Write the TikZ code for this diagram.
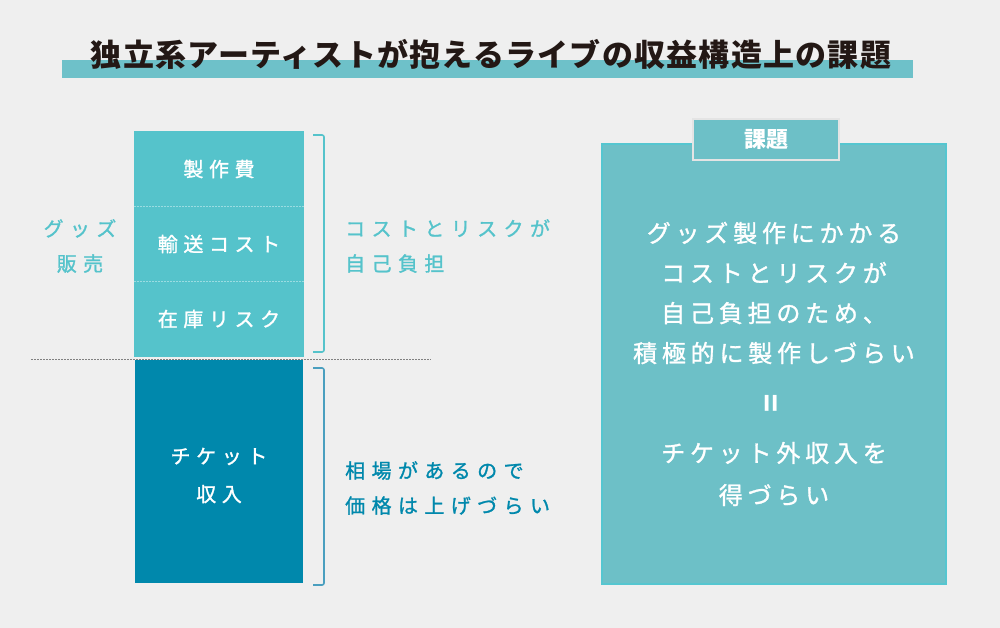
\documentclass[tikz,border=0pt]{standalone}
\usepackage{fontspec}
\setmainfont{Noto Sans CJK JP}
\newfontfamily\jpS[LetterSpace=28,FakeBold=1.2]{Noto Sans CJK JP}
\newfontfamily\jpL[LetterSpace=32,FakeBold=1.2]{Noto Sans CJK JP}
\newfontfamily\jpM[LetterSpace=20,FakeBold=1.2]{Noto Sans CJK JP}
\newfontfamily\jpT[LetterSpace=4]{Noto Sans CJK JP}
\definecolor{bg}{HTML}{EFEFEF}
\definecolor{lightc}{HTML}{55C3CB}
\definecolor{darkc}{HTML}{0088AC}
\definecolor{panel}{HTML}{6DC0C7}
\definecolor{panelb}{HTML}{55C6D0}
\definecolor{titlebar}{HTML}{6EC1C9}
\definecolor{ink}{HTML}{231815}
\definecolor{brdark}{HTML}{4A9FBF}
\definecolor{tabb}{HTML}{E4E4E4}
\definecolor{sepc}{HTML}{9ADCE1}
\tikzset{
  stackbox/.style={inner sep=0, minimum width=170, minimum height=75, text=white, font=\jpS\fontsize{20}{24}\selectfont},
  sidelabel/.style={inner sep=0, align=left, anchor=west, font=\jpL\fontsize{20}{35}\selectfont},
  bodytext/.style={inner sep=0, align=center, text=white, font=\jpM\fontsize{24}{40}\selectfont},
  bracket/.style={line width=1.6, rounded corners=2},
}
\begin{document}
\begin{tikzpicture}[x=1pt,y=-1pt]
\fill[bg] (0,0) rectangle (1000,628);
\useasboundingbox (0,0) rectangle (1000,628);
% title
\node[fill=titlebar, inner sep=0, minimum width=851, minimum height=18, anchor=north west] (bar) at (62,60) {};
\node[inner sep=0, text=ink, font=\jpT\bfseries\fontsize{31}{34}\selectfont] (title) at (491,55) {独立系アーティストが抱えるライブの収益構造上の課題};
% stack
\node[stackbox, fill=lightc] (s1) at (219,169) {製作費};
\node[stackbox, fill=lightc] (s2) at (219,244) {輸送コスト};
\node[stackbox, fill=lightc] (s3) at (219,319) {在庫リスク};
\draw[sepc, line width=0.8, dash pattern=on 2 off 1] (s1.south west) -- (s1.south east);
\draw[sepc, line width=0.8, dash pattern=on 2 off 1] (s2.south west) -- (s2.south east);
\node[fill=darkc, inner sep=0, minimum width=168, minimum height=223] (tk) at (219,471.5) {};
\node[inner sep=0, align=center, text=white, font=\jpS\fontsize{20}{38}\selectfont] (tkl) at ([yshift=-4pt]tk.center) {チケット\\収入};
\coordinate (dl) at (31,359);
\coordinate (dr) at (431,359);
\draw[gray, line width=0.8, dash pattern=on 2 off 1] (dl) -- (dr);
% brackets
\draw[lightc, bracket] (313,135) -- (324,135) -- (324,352) -- (313,352);
\draw[brdark, bracket] (313,368) -- (324,368) -- (324,585) -- (313,585);
% side labels
\node[inner sep=0, align=center, text=lightc, font=\jpL\fontsize{20}{35}\selectfont] (goods) at (80,246) {グッズ\\販売};
\node[sidelabel, text=lightc] (cost) at (345,246) {コストとリスクが\\自己負担};
\node[sidelabel, text=darkc] (price) at (345,488) {相場があるので\\価格は上げづらい};
% right panel
\node[draw=panelb, line width=2, fill=panel, minimum width=344, minimum height=440, inner sep=0] (panel) at (774,364) {};
\node[draw=tabb, line width=2, fill=panel, minimum width=146, minimum height=41, inner sep=0, text=white, font=\bfseries\fontsize{22}{24}\selectfont] (tab) at (766,139.5) {課題};
\node[bodytext] (b1) at (774,293) {グッズ製作にかかる\\コストとリスクが\\自己負担のため、\\積極的に製作しづらい};
\node[inner sep=0, text=white, rotate=90, font=\bfseries\fontsize{30}{30}\selectfont] (eq) at (774,403) {=};
\node[bodytext, font=\jpM\fontsize{24}{42}\selectfont] (b2) at (774,474) {チケット外収入を\\得づらい};
\end{tikzpicture}
\end{document}
